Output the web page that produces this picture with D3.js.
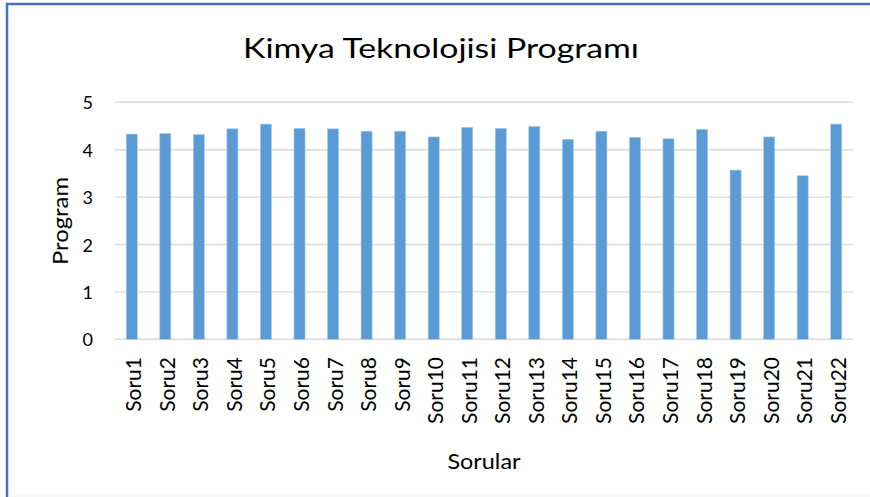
<!DOCTYPE html>
<html>
<head>
<meta charset="utf-8">
<script src="https://cdn.jsdelivr.net/npm/d3@7/dist/d3.min.js"></script>
<style>
  html, body { margin: 0; padding: 0; background: #fff; }
  svg { display: block; }
  text { font-family: Lato, "Open Sans", sans-serif; fill: #000; }
</style>
</head>
<body>
<svg id="chart" width="870" height="497"></svg>
<script>
const categories = ["Soru1","Soru2","Soru3","Soru4","Soru5","Soru6","Soru7","Soru8","Soru9","Soru10","Soru11",
                    "Soru12","Soru13","Soru14","Soru15","Soru16","Soru17","Soru18","Soru19","Soru20","Soru21","Soru22"];
const values = [4.33, 4.34, 4.32, 4.44, 4.54, 4.45, 4.44, 4.39, 4.39, 4.27, 4.47,
                4.45, 4.49, 4.22, 4.39, 4.26, 4.23, 4.43, 3.57, 4.27, 3.45, 4.54];
const yTicks = [0, 1, 2, 3, 4, 5];
const titleText = "Kimya Teknolojisi Programı";
const xTitle = "Sorular";
const yTitle = "Program";

const svg = d3.select("#chart");

// frame (blue left/top edges, faint bottom line)
svg.append("line").attr("x1", 7).attr("x2", 7).attr("y1", 3).attr("y2", 497)
  .attr("stroke", "#4472C4").attr("stroke-width", 2.5);
svg.append("line").attr("x1", 6).attr("x2", 870).attr("y1", 4).attr("y2", 4)
  .attr("stroke", "#4472C4").attr("stroke-width", 2.5);
svg.append("line").attr("x1", 8).attr("x2", 870).attr("y1", 496).attr("y2", 496)
  .attr("stroke", "#EEEEEE").attr("stroke-width", 1);

const x = d3.scaleBand().domain(categories).range([115, 853])
  .paddingInner(0.67).paddingOuter(0.335);
const y = d3.scaleLinear().domain([0, 5]).range([339.3, 102.3]);

// gridlines
svg.append("g").selectAll("line").data(yTicks).join("line")
  .attr("x1", 115).attr("x2", 853)
  .attr("y1", d => y(d)).attr("y2", d => y(d))
  .attr("stroke", "#D9D9D9").attr("stroke-width", 1.4);

// bars
svg.append("g").selectAll("rect").data(values).join("rect")
  .attr("x", (d, i) => x(categories[i]))
  .attr("width", x.bandwidth())
  .attr("y", d => y(d))
  .attr("height", d => y(0) - y(d))
  .attr("fill", "#5B9BD5")
  .attr("stroke", "#A9CBEA").attr("stroke-width", 0.6);

// y tick labels
svg.append("g").selectAll("text").data(yTicks).join("text")
  .attr("x", 93).attr("y", d => y(d))
  .attr("text-anchor", "end").attr("dominant-baseline", "central")
  .attr("font-size", 18).attr("fill", "#000")
  .text(d => d);

// x tick labels (rotated)
svg.append("g").selectAll("text").data(categories).join("text")
  .attr("transform", d => `translate(${x(d) + x.bandwidth() / 2 + 1},357) rotate(-90)`)
  .attr("text-anchor", "end").attr("dominant-baseline", "central")
  .attr("font-size", 21)
  .text(d => d);

// title
svg.append("text").attr("x", 441).attr("y", 58)
  .attr("text-anchor", "middle").attr("font-size", 27)
  .attr("textLength", 396).attr("lengthAdjust", "spacingAndGlyphs")
  .text(titleText);

// x axis title
svg.append("text").attr("x", 484).attr("y", 469)
  .attr("text-anchor", "middle").attr("font-size", 22)
  .attr("textLength", 73).attr("lengthAdjust", "spacingAndGlyphs")
  .text(xTitle);

// y axis title
svg.append("text").attr("transform", "translate(59,221) rotate(-90)")
  .attr("text-anchor", "middle").attr("dominant-baseline", "central")
  .attr("font-size", 22)
  .attr("textLength", 88).attr("lengthAdjust", "spacingAndGlyphs")
  .text(yTitle);
</script>
</body>
</html>
